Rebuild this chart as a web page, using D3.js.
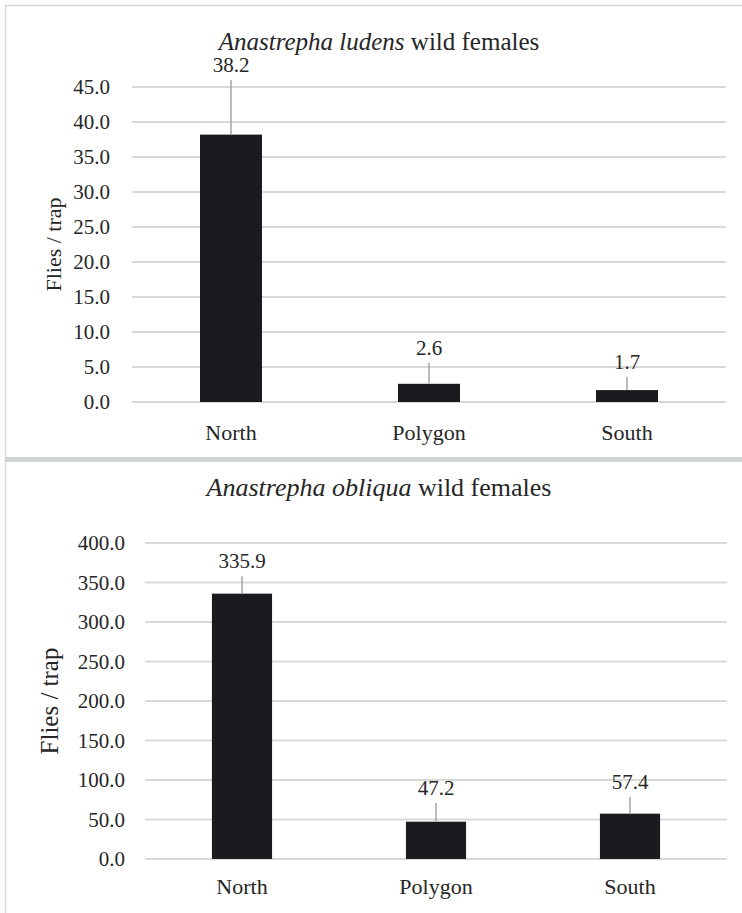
<!DOCTYPE html>
<html><head><meta charset="utf-8">
<script src="https://cdn.jsdelivr.net/npm/d3@7"></script>
<style>body{margin:0;background:#fff}svg{display:block}
svg text{font-family:"Liberation Serif","DejaVu Serif",serif;}</style>
</head><body>
<svg id="c" width="742" height="913"></svg>
<script>
const categories = ["North", "Polygon", "South"];
const ludensValues = [38.2, 2.6, 1.7];
const ludensErrors = [7.8, 3.0, 1.9];
const ludensTicks = [0, 5, 10, 15, 20, 25, 30, 35, 40, 45];
const obliquaValues = [335.9, 47.2, 57.4];
const obliquaErrors = [22, 23.7, 21];
const obliquaTicks = [0, 50, 100, 150, 200, 250, 300, 350, 400];

const svg = d3.select("#c");
svg.append("rect").attr("width",742).attr("height",913).attr("fill","#fff");
svg.append("line").attr("x1",5.5).attr("x2",5.5).attr("y1",5).attr("y2",913).attr("stroke","#d9d9d9").attr("stroke-width",1.5);
svg.append("line").attr("x1",5).attr("x2",742).attr("y1",5.5).attr("y2",5.5).attr("stroke","#d9d9d9").attr("stroke-width",1.5);
svg.append("rect").attr("x",5).attr("y",457).attr("width",737).attr("height",5).attr("fill","#d0d4d4");

function txt(sel){ return sel.style("font-family",'"Liberation Serif", "DejaVu Serif", serif').attr("fill","#262626"); }

function panel(o){
  const g = svg.append("g");
  const x = d3.scaleBand().domain(categories).range([o.x0, o.x1]).paddingInner(o.pi).paddingOuter(o.pi/2);
  const y = d3.scaleLinear().domain([0, d3.max(o.ticks)]).range([o.y0, o.y1]);
  g.selectAll(".grid").data(o.ticks).join("line")
    .attr("x1",o.x0).attr("x2",o.x1).attr("y1",d=>y(d)).attr("y2",d=>y(d))
    .attr("stroke","#d9d9d9").attr("stroke-width",2);
  txt(g.selectAll(".tl").data(o.ticks).join("text"))
    .attr("x",o.tickX).attr("y",d=>y(d)).attr("dy","0.35em").attr("text-anchor","end")
    .attr("font-size",o.tickFs).text(d=>d3.format(".1f")(d));
  g.selectAll(".bar").data(categories).join("rect")
    .attr("x",d=>x(d)).attr("width",x.bandwidth())
    .attr("y",(d,i)=>y(o.values[i])).attr("height",(d,i)=>y(0)-y(o.values[i]))
    .attr("fill","#1b1b1f");
  g.selectAll(".err").data(categories).join("line")
    .attr("x1",d=>x(d)+x.bandwidth()/2).attr("x2",d=>x(d)+x.bandwidth()/2)
    .attr("y1",(d,i)=>y(o.values[i])).attr("y2",(d,i)=>y(o.values[i]+o.errors[i]))
    .attr("stroke","#a6a6a6").attr("stroke-width",1.5);
  txt(g.selectAll(".dl").data(categories).join("text"))
    .attr("x",d=>x(d)+x.bandwidth()/2).attr("y",(d,i)=>y(o.values[i]+o.errors[i])-8)
    .attr("text-anchor","middle").attr("font-size",o.dlFs).text((d,i)=>o.values[i].toFixed(1));
  txt(g.selectAll(".cl").data(categories).join("text"))
    .attr("x",d=>x(d)+x.bandwidth()/2).attr("y",o.catY)
    .attr("text-anchor","middle").attr("font-size",o.catFs).text(d=>d);
  const t = txt(g.append("text")).attr("x",o.titleX).attr("y",o.titleY).attr("text-anchor","middle").attr("font-size",o.titleFs);
  t.append("tspan").attr("font-style","italic").text(o.species);
  t.append("tspan").text(" wild females");
  txt(g.append("text")).attr("transform",`translate(${o.ylabX},${(o.y0+o.y1)/2}) rotate(-90)`)
    .attr("text-anchor","middle").attr("font-size",o.ylabFs).text("Flies / trap");
}

panel({values:ludensValues, errors:ludensErrors, ticks:ludensTicks, species:"Anastrepha ludens",
  x0:132, x1:726, pi:0.687, y0:402, y1:87, tickX:110, tickFs:21, dlFs:21, catFs:22, catY:440,
  titleX:379, titleY:50, titleFs:25, ylabX:61, ylabFs:22});
panel({values:obliquaValues, errors:obliquaErrors, ticks:obliquaTicks, species:"Anastrepha obliqua",
  x0:145, x1:727, pi:0.69, y0:859, y1:543, tickX:125, tickFs:21, dlFs:21, catFs:22, catY:894,
  titleX:379, titleY:496, titleFs:26, ylabX:58, ylabFs:25});
</script>
</body></html>
